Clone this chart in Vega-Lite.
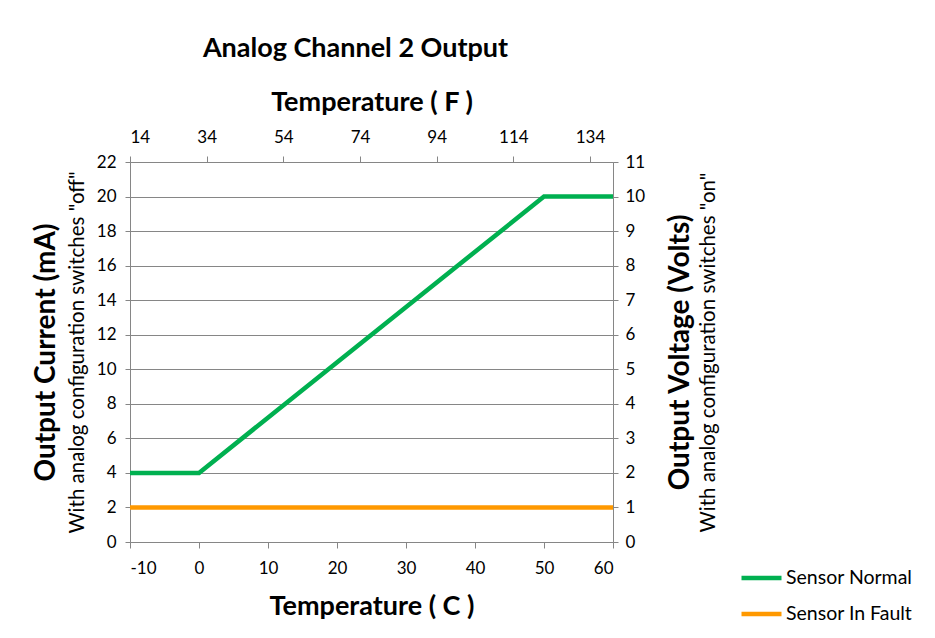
{
  "$schema": "https://vega.github.io/schema/vega-lite/v6.json",
  "width": 483,
  "height": 380,
  "autosize": {"type": "none"},
  "padding": {"left": 130, "top": 162, "right": 322, "bottom": 96},
  "background": "white",
  "config": {
    "font": "Lato",
    "view": {"stroke": null},
    "axis": {
      "domainColor": "#868686",
      "tickColor": "#868686",
      "gridColor": "#868686",
      "domainWidth": 1,
      "tickWidth": 1,
      "gridWidth": 1,
      "gridOpacity": 1,
      "labelFont": "Lato",
      "labelFontSize": 17,
      "labelColor": "#000000",
      "titleFont": "Lato",
      "titleColor": "#000000",
      "tickSize": 6
    }
  },
  "title": {
    "text": "Analog Channel 2 Output",
    "font": "Lato",
    "fontSize": 27,
    "fontWeight": "bold",
    "color": "#000000",
    "anchor": "middle",
    "dx": -16,
    "offset": 25
  },
  "data": {
    "values": [
      {"series": "Sensor Normal", "tempC": -10, "tempF": 14, "mA": 4, "V": 2},
      {"series": "Sensor Normal", "tempC": 0, "tempF": 32, "mA": 4, "V": 2},
      {"series": "Sensor Normal", "tempC": 50, "tempF": 122, "mA": 20, "V": 10},
      {"series": "Sensor Normal", "tempC": 60, "tempF": 140, "mA": 20, "V": 10},
      {"series": "Sensor In Fault", "tempC": -10, "tempF": 14, "mA": 2, "V": 1},
      {"series": "Sensor In Fault", "tempC": 60, "tempF": 140, "mA": 2, "V": 1}
    ]
  },
  "layer": [
    {
      "mark": {"type": "line", "strokeWidth": 4.5, "strokeCap": "butt"},
      "encoding": {
        "x": {
          "field": "tempC", "type": "quantitative",
          "scale": {"domain": [-10, 60], "nice": false, "zero": false},
          "axis": {
            "orient": "bottom",
            "values": [-10, 0, 10, 20, 30, 40, 50, 60],
            "labelExpr": "datum.value < 0 ? '-' + abs(datum.value) : '' + datum.value",
            "grid": false,
            "labelPadding": 12,
            "title": "Temperature ( C )",
            "titleFontSize": 27,
            "titleFontWeight": "bold",
            "titlePadding": 17
          }
        },
        "y": {
          "field": "mA", "type": "quantitative",
          "scale": {"domain": [0, 22], "nice": false, "zero": true},
          "axis": {
            "orient": "left",
            "values": [0, 2, 4, 6, 8, 10, 12, 14, 16, 18, 20, 22],
            "grid": true,
            "tickSize": 5,
            "labelPadding": 9,
            "title": "With analog configuration switches \"off\"",
            "titleFontSize": 20.5,
            "titleFontWeight": "normal",
            "titlePadding": 9
          }
        },
        "color": {
          "field": "series", "type": "nominal",
          "scale": {"domain": ["Sensor Normal", "Sensor In Fault"], "range": ["#00B050", "#FF9900"]},
          "legend": {
            "orient": "none",
            "legendX": 609,
            "legendY": 398,
            "title": null,
            "symbolType": "stroke",
            "symbolSize": 1600,
            "symbolStrokeWidth": 4.5,
            "labelFontSize": 19.5,
            "labelFont": "Lato",
            "labelColor": "#000000",
            "labelOffset": 2,
            "clipHeight": 36,
            "rowPadding": 0,
            "padding": 0
          }
        }
      }
    },
    {
      "mark": {"type": "line", "opacity": 0},
      "encoding": {
        "detail": {"field": "series"},
        "x": {"field": "tempC", "type": "quantitative", "scale": {"domain": [-10, 60], "nice": false, "zero": false}, "axis": null},
        "y": {
          "field": "mA", "type": "quantitative",
          "scale": {"domain": [0, 22], "nice": false},
          "axis": {
            "orient": "left",
            "labels": false, "ticks": false, "domain": false, "grid": false,
            "minExtent": 0,
            "title": "Output Current (mA)",
            "titleFontSize": 28,
            "titleFontWeight": "bold",
            "titlePadding": 70
          }
        }
      }
    },
    {
      "mark": {"type": "line", "opacity": 0},
      "encoding": {
        "detail": {"field": "series"},
        "x": {"field": "tempC", "type": "quantitative", "scale": {"domain": [-10, 60], "nice": false, "zero": false}, "axis": null},
        "y": {
          "field": "V", "type": "quantitative",
          "scale": {"domain": [0, 11], "nice": false},
          "axis": {
            "orient": "right",
            "values": [0, 1, 2, 3, 4, 5, 6, 7, 8, 9, 10, 11],
            "grid": false,
            "tickSize": 5,
            "labelPadding": 7,
            "title": "Output Voltage (Volts)",
            "titleFontSize": 28,
            "titleFontWeight": "bold",
            "titleAngle": 270,
            "titleBaseline": "top",
            "titlePadding": 22
          }
        }
      }
    },
    {
      "mark": {"type": "line", "opacity": 0},
      "encoding": {
        "detail": {"field": "series"},
        "x": {"field": "tempC", "type": "quantitative", "scale": {"domain": [-10, 60], "nice": false, "zero": false}, "axis": null},
        "y": {
          "field": "V", "type": "quantitative",
          "scale": {"domain": [0, 11], "nice": false},
          "axis": {
            "orient": "right",
            "labels": false, "ticks": false, "domain": false, "grid": false,
            "minExtent": 0,
            "title": "With analog configuration switches  \"on\"",
            "titleFontSize": 20.5,
            "titleFontWeight": "normal",
            "titleAngle": 270,
            "titleBaseline": "top",
            "titlePadding": 85
          }
        }
      }
    },
    {
      "mark": {"type": "line", "opacity": 0},
      "encoding": {
        "detail": {"field": "series"},
        "x": {
          "field": "tempF", "type": "quantitative",
          "scale": {"domain": [14, 140], "nice": false, "zero": false},
          "axis": {
            "orient": "top",
            "values": [14, 34, 54, 74, 94, 114, 134],
            "grid": false,
            "labelPadding": 10,
            "title": "Temperature ( F )",
            "titleFontSize": 27,
            "titleFontWeight": "bold",
            "titlePadding": 12
          }
        },
        "y": {"field": "mA", "type": "quantitative", "scale": {"domain": [0, 22], "nice": false}, "axis": null}
      }
    }
  ],
  "resolve": {"scale": {"x": "independent", "y": "independent"}}
}
